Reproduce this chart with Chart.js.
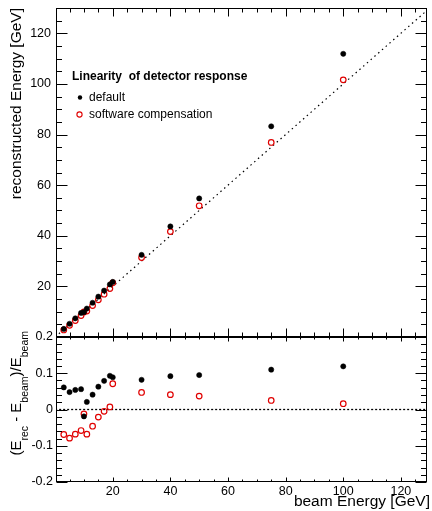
<!DOCTYPE html>
<html>
<head>
<meta charset="utf-8">
<script src="https://cdn.jsdelivr.net/npm/chart.js@4.4.1/dist/chart.umd.min.js"></script>
<style>
html, body { margin: 0; padding: 0; background: #fff; }
#wrap { position: relative; width: 432px; height: 511px; }
#topChart { position: absolute; left: 0; top: 0; }
#bottomChart { position: absolute; left: 0; top: 330px; }
</style>
</head>
<body>
<div id="wrap">
  <canvas id="topChart" width="432" height="345"></canvas>
  <canvas id="bottomChart" width="432" height="181"></canvas>
</div>
<script>
// beam energies [GeV]
const beamEnergy = [3, 5, 7, 9, 10, 11, 13, 15, 17, 19, 20, 30, 40, 50, 75, 100];
// reconstructed energies [GeV]
const recoDefault = [3.18, 5.24, 7.38, 9.5, 9.81, 11.23, 13.53, 15.95, 18.34, 20.77, 21.78, 32.46, 43.7, 54.75, 83.25, 111.9];
const recoSoftComp = [2.79, 4.6, 6.52, 8.48, 9.88, 10.25, 12.4, 14.69, 16.92, 19.13, 21.42, 31.41, 41.64, 51.85, 76.88, 101.6];
// (E_rec - E_beam) / E_beam
const resDefault = [0.061, 0.048, 0.054, 0.056, -0.019, 0.021, 0.041, 0.063, 0.079, 0.093, 0.089, 0.082, 0.092, 0.095, 0.110, 0.119];
const resSoftComp = [-0.069, -0.079, -0.068, -0.058, -0.012, -0.068, -0.046, -0.021, -0.005, 0.007, 0.071, 0.047, 0.041, 0.037, 0.025, 0.016];
// reference lines
const diagonal = [0, 130];
const zeroLineX = [0, 130];
// tick labels
const xTicks = [20, 40, 60, 80, 100, 120];
const yTopTicks = [20, 40, 60, 80, 100, 120];
const yBotTicks = [-0.2, -0.1, 0, 0.1, 0.2];

const FONT = "'Liberation Sans', Arial, Helvetica, sans-serif";

// ROOT-like frame with inward ticks on all four sides
const frameTicks = {
    id: "frameTicks",
    afterDraw(chart, args, o) {
        const ctx = chart.ctx, a = chart.chartArea;
        const xs = chart.scales.x, ys = chart.scales.y;
        ctx.save();
        ctx.strokeStyle = "#000";
        ctx.lineWidth = 1;
        const L = Math.round(a.left) + 0.5, R = Math.round(a.right) - 0.5;
        const T = Math.round(a.top) + 0.5, B = Math.round(a.bottom) - 0.5;
        ctx.strokeRect(L, T, R - L, B - T);
        ctx.beginPath();
        const eps = 1e-6;
        for (let v = Math.ceil(xs.min / o.xMinor) * o.xMinor; v <= xs.max + eps; v += o.xMinor) {
            const major = Math.abs(v / o.xMajor - Math.round(v / o.xMajor)) < 1e-6;
            const len = major ? o.xLen[0] : o.xLen[1];
            const px = Math.round(xs.getPixelForValue(v)) + 0.5;
            ctx.moveTo(px, B); ctx.lineTo(px, B - len);
            ctx.moveTo(px, T); ctx.lineTo(px, T + len);
        }
        for (let v = Math.ceil(ys.min / o.yMinor - eps) * o.yMinor; v <= ys.max + eps; v += o.yMinor) {
            const major = Math.abs(v / o.yMajor - Math.round(v / o.yMajor)) < 1e-6;
            const len = major ? o.yLen[0] : o.yLen[1];
            const py = Math.round(ys.getPixelForValue(v)) + 0.5;
            ctx.moveTo(L, py); ctx.lineTo(L + len, py);
            ctx.moveTo(R, py); ctx.lineTo(R - len, py);
        }
        ctx.stroke();
        ctx.restore();
    }
};

// titles and legend for the upper pad
const topDecor = {
    id: "topDecor",
    afterDraw(chart) {
        const ctx = chart.ctx;
        ctx.save();
        ctx.fillStyle = "#000";
        // y title
        ctx.save();
        ctx.translate(0, 8);
        ctx.rotate(-Math.PI / 2);
        ctx.font = "15.5px " + FONT;
        ctx.textAlign = "right";
        ctx.textBaseline = "alphabetic";
        ctx.fillText("reconstructed Energy [GeV]", 0, 21);
        ctx.restore();
        // legend
        ctx.textBaseline = "middle";
        ctx.textAlign = "left";
        ctx.font = "bold 12px " + FONT;
        ctx.fillText("Linearity  of detector response", 72, 77);
        ctx.font = "12px " + FONT;
        ctx.fillText("default", 89, 98);
        ctx.fillText("software compensation", 89, 115);
        ctx.beginPath();
        ctx.arc(80, 97.5, 2.2, 0, Math.PI * 2);
        ctx.fill();
        ctx.beginPath();
        ctx.strokeStyle = "#e00000";
        ctx.lineWidth = 1.1;
        ctx.arc(79.5, 114.5, 2.6, 0, Math.PI * 2);
        ctx.stroke();
        ctx.restore();
    }
};

// titles for the lower pad
const bottomDecor = {
    id: "bottomDecor",
    afterDraw(chart) {
        const ctx = chart.ctx;
        ctx.save();
        ctx.fillStyle = "#000";
        ctx.font = "15.5px " + FONT;
        ctx.textAlign = "right";
        ctx.textBaseline = "alphabetic";
        ctx.fillText("beam Energy [GeV]", 430, 176);
        // y title with subscripts
        const parts = [
            ["(E", false], ["rec", true], [" - E", false], ["beam", true],
            [")/E", false], ["beam", true]
        ];
        const mainFont = "15px " + FONT, subFont = "10.5px " + FONT;
        let total = 0;
        parts.forEach(p => { ctx.font = p[1] ? subFont : mainFont; total += ctx.measureText(p[0]).width; });
        ctx.translate(0, 1);
        ctx.rotate(-Math.PI / 2);
        ctx.textAlign = "left";
        let x = -total;
        parts.forEach(p => {
            ctx.font = p[1] ? subFont : mainFont;
            ctx.fillText(p[0], x, p[1] ? 28 : 21);
            x += ctx.measureText(p[0]).width;
        });
        ctx.restore();
    }
};

function fixedTicks(values) {
    return function (scale) { scale.ticks = values.map(v => ({ value: v })); };
}
function noPad(scale) {
    scale.paddingTop = 0; scale.paddingBottom = 0;
    scale.paddingLeft = 0; scale.paddingRight = 0;
}

const tickFont = { family: FONT, size: 12.5 };

new Chart(document.getElementById("topChart").getContext("2d"), {
    type: "scatter",
    data: {
        datasets: [{
            label: "default",
            data: beamEnergy.map((e, i) => ({ x: e, y: recoDefault[i] })),
            pointRadius: 2.6,
            pointBackgroundColor: "#000",
            pointBorderColor: "#000",
            pointBorderWidth: 0.5,
            order: 1
        }, {
            label: "software compensation",
            data: beamEnergy.map((e, i) => ({ x: e, y: recoSoftComp[i] })),
            pointRadius: 2.8,
            pointBackgroundColor: "rgba(0,0,0,0)",
            pointBorderColor: "#e00000",
            pointBorderWidth: 1.2,
            order: 2
        }, {
            type: "line",
            label: "diagonal",
            data: diagonal.map(v => ({ x: v, y: v })),
            borderColor: "#000",
            borderWidth: 1.2,
            borderDash: [1.5, 3.5],
            pointRadius: 0,
            fill: false,
            order: 3
        }]
    },
    options: {
        responsive: false,
        animation: false,
        layout: { padding: { top: 8, right: 2, left: 0, bottom: 0 } },
        plugins: {
            legend: { display: false },
            tooltip: { enabled: false },
            frameTicks: { xMajor: 20, xMinor: 5, yMajor: 20, yMinor: 5, xLen: [8, 4], yLen: [11, 5.5] }
        },
        scales: {
            x: {
                type: "linear", min: 0.3, max: 129,
                afterBuildTicks: fixedTicks(xTicks),
                afterFit: s => { s.height = 8; noPad(s); },
                grid: { display: false, drawTicks: false },
                border: { display: false },
                ticks: { display: false }
            },
            y: {
                type: "linear", min: 0, max: 130,
                afterBuildTicks: fixedTicks(yTopTicks),
                afterFit: s => { s.width = 56; noPad(s); },
                grid: { display: false, drawTicks: false },
                border: { display: false },
                ticks: { padding: 5, color: "#000", font: tickFont }
            }
        }
    },
    plugins: [frameTicks, topDecor]
});

new Chart(document.getElementById("bottomChart").getContext("2d"), {
    type: "scatter",
    data: {
        datasets: [{
            label: "default",
            data: beamEnergy.map((e, i) => ({ x: e, y: resDefault[i] })),
            pointRadius: 2.6,
            pointBackgroundColor: "#000",
            pointBorderColor: "#000",
            pointBorderWidth: 0.5,
            order: 1
        }, {
            label: "software compensation",
            data: beamEnergy.map((e, i) => ({ x: e, y: resSoftComp[i] })),
            pointRadius: 2.8,
            pointBackgroundColor: "rgba(0,0,0,0)",
            pointBorderColor: "#e00000",
            pointBorderWidth: 1.2,
            order: 2
        }, {
            type: "line",
            label: "zero",
            data: zeroLineX.map(v => ({ x: v, y: 0 })),
            borderColor: "#000",
            borderWidth: 1.3,
            borderDash: [2, 2],
            pointRadius: 0,
            fill: false,
            order: 3
        }]
    },
    options: {
        responsive: false,
        animation: false,
        layout: { padding: { top: 7, right: 2, left: 0, bottom: 0 } },
        plugins: {
            legend: { display: false },
            tooltip: { enabled: false },
            frameTicks: { xMajor: 20, xMinor: 5, yMajor: 0.1, yMinor: 0.02, xLen: [4, 2], yLen: [11, 5.5] }
        },
        scales: {
            x: {
                type: "linear", min: 0.3, max: 129,
                afterBuildTicks: fixedTicks(xTicks),
                afterFit: s => { s.height = 29; noPad(s); },
                grid: { display: false, drawTicks: false },
                border: { display: false },
                ticks: { padding: 2, color: "#000", font: tickFont, maxRotation: 0 }
            },
            y: {
                type: "linear", min: -0.2, max: 0.2,
                afterBuildTicks: fixedTicks(yBotTicks),
                afterFit: s => { s.width = 56; noPad(s); },
                grid: { display: false, drawTicks: false },
                border: { display: false },
                ticks: { padding: 3, color: "#000", font: tickFont }
            }
        }
    },
    plugins: [frameTicks, bottomDecor]
});
</script>
</body>
</html>
